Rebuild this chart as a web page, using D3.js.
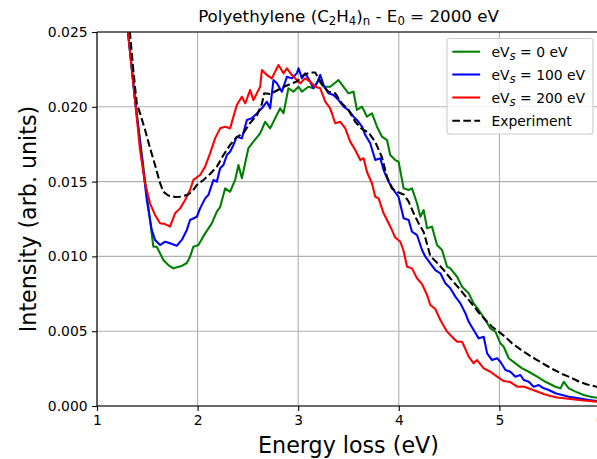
<!DOCTYPE html>
<html><head><meta charset="utf-8">
<script src="https://cdn.jsdelivr.net/npm/d3@7"></script>
<style>html,body{margin:0;padding:0;background:#fff;}svg{display:block;font-family:"DejaVu Sans",sans-serif;}</style>
</head><body>
<svg id="c" width="597" height="459"></svg>
<script>
// ---- data ----
const xTicks = [1, 2, 3, 4, 5, 6];
const yTicks = [0, 0.005, 0.010, 0.015, 0.020, 0.025];
const legendLabels = ["0 eV", "100 eV", "200 eV", "Experiment"];

const green_E = [1.28,1.308,1.378,1.56,1.594,1.66,1.709,1.759,1.809,1.843,1.893,1.925,1.958,2.008,2.075,2.141,2.191,2.224,2.274,2.323,2.373,2.406,2.44,2.505,2.555,2.622,2.672,2.721,2.771,2.821,2.854,2.903,2.953,3.003,3.037,3.102,3.152,3.202,3.252,3.318,3.401,3.451,3.5,3.55,3.584,3.634,3.684,3.733,3.783,3.833,3.883,3.915,3.965,3.998,4.048,4.098,4.131,4.181,4.214,4.247,4.281,4.33,4.38,4.43,4.48,4.512,4.579,4.629,4.695,4.744,4.794,4.861,4.91,4.96,5.01,5.043,5.093,5.159,5.226,5.292,5.375,5.458,5.557,5.607,5.64,5.69,5.756,5.839,5.905,6.005];
const green_I = [0.0265,0.025,0.0205,0.01065,0.01065,0.00976,0.00942,0.0092,0.00931,0.00936,0.00956,0.00998,0.01065,0.01076,0.01154,0.01221,0.01299,0.0133,0.01455,0.01432,0.01511,0.01611,0.01522,0.01723,0.01767,0.01823,0.019,0.01856,0.01923,0.0199,0.01957,0.02124,0.02101,0.02134,0.02101,0.02134,0.02124,0.02179,0.02134,0.02134,0.02179,0.02134,0.0209,0.02101,0.01979,0.02001,0.01934,0.01957,0.01867,0.018,0.01778,0.01678,0.01644,0.01633,0.01455,0.01444,0.01455,0.01355,0.01265,0.0131,0.01188,0.01199,0.01076,0.01043,0.00931,0.0092,0.00864,0.00797,0.00753,0.00686,0.00642,0.00575,0.00519,0.00497,0.00419,0.00396,0.00319,0.00285,0.00252,0.00229,0.00196,0.00162,0.00129,0.00118,0.00162,0.00118,0.00096,0.00074,0.00062,0.00051];

const blue_E = [1.279,1.308,1.378,1.495,1.544,1.577,1.627,1.677,1.726,1.793,1.843,1.893,1.925,1.992,2.025,2.075,2.107,2.157,2.191,2.224,2.257,2.291,2.323,2.356,2.39,2.44,2.49,2.539,2.589,2.639,2.689,2.721,2.754,2.788,2.838,2.888,2.937,2.987,3.003,3.037,3.07,3.119,3.152,3.186,3.219,3.252,3.301,3.351,3.401,3.451,3.5,3.55,3.584,3.634,3.667,3.716,3.766,3.816,3.849,3.899,3.948,3.998,4.048,4.098,4.131,4.181,4.231,4.264,4.313,4.363,4.413,4.463,4.512,4.562,4.612,4.662,4.695,4.744,4.794,4.844,4.878,4.927,4.977,5.01,5.06,5.109,5.159,5.209,5.242,5.292,5.341,5.391,5.441,5.491,5.557,5.624,5.69,5.789,5.889,6.005];
const blue_I = [0.0265,0.025,0.02045,0.01378,0.01177,0.0111,0.01076,0.01098,0.01088,0.01071,0.0111,0.01177,0.01243,0.01265,0.01321,0.01388,0.0141,0.01511,0.01499,0.01589,0.01611,0.01678,0.017,0.01745,0.018,0.01789,0.01912,0.01923,0.01956,0.0199,0.02034,0.0199,0.02179,0.02157,0.02101,0.02201,0.0219,0.02224,0.02257,0.0219,0.02224,0.02168,0.02124,0.02157,0.02213,0.02146,0.0209,0.02079,0.02045,0.02001,0.01978,0.01934,0.01912,0.01867,0.01811,0.01756,0.01644,0.01656,0.01577,0.01499,0.01444,0.01397,0.01255,0.01243,0.01165,0.01143,0.01043,0.00998,0.00954,0.00909,0.00887,0.0082,0.00787,0.00731,0.00686,0.0062,0.00563,0.00508,0.00452,0.00463,0.00352,0.00307,0.00319,0.00296,0.00241,0.00229,0.00196,0.00207,0.00174,0.00162,0.00129,0.0014,0.00118,0.00107,0.00085,0.00074,0.00062,0.00051,0.0004,0.00029];

const red_E = [1.279,1.308,1.378,1.428,1.478,1.527,1.577,1.627,1.677,1.726,1.776,1.826,1.876,1.925,1.958,2.025,2.075,2.124,2.174,2.224,2.274,2.323,2.39,2.44,2.473,2.522,2.555,2.622,2.639,2.689,2.738,2.804,2.854,2.888,2.937,2.987,3.02,3.07,3.119,3.169,3.219,3.269,3.318,3.368,3.418,3.468,3.517,3.567,3.617,3.65,3.684,3.733,3.766,3.799,3.849,3.899,3.932,3.965,4.015,4.048,4.082,4.131,4.181,4.231,4.281,4.313,4.363,4.413,4.48,4.529,4.579,4.629,4.695,4.744,4.778,4.844,4.91,4.977,5.043,5.109,5.176,5.242,5.308,5.375,5.441,5.507,5.574,5.706,5.839,6.005];
const red_I = [0.0265,0.025,0.02045,0.01711,0.01489,0.01355,0.01277,0.01221,0.01216,0.01199,0.01288,0.01321,0.01377,0.01444,0.01511,0.01544,0.016,0.01689,0.01789,0.01856,0.01867,0.01856,0.02012,0.02067,0.02023,0.02112,0.02045,0.02134,0.02246,0.02212,0.0219,0.02279,0.02224,0.02257,0.02212,0.02179,0.02157,0.0219,0.02168,0.02134,0.02124,0.02034,0.0199,0.0189,0.019,0.01856,0.01767,0.01711,0.01644,0.01656,0.01564,0.01489,0.01399,0.01388,0.01288,0.01221,0.01176,0.01126,0.01098,0.01036,0.00931,0.0092,0.00854,0.00815,0.00742,0.00675,0.00648,0.00575,0.00497,0.00463,0.0043,0.0043,0.0033,0.00285,0.00307,0.00252,0.00229,0.00196,0.00167,0.0016,0.00129,0.0013,0.00114,0.00097,0.0008,0.00067,0.00057,0.00047,0.00037,0.00027];

const exp_E = [1.289,1.328,1.361,1.395,1.428,1.478,1.527,1.577,1.627,1.66,1.709,1.776,1.826,1.893,1.942,1.992,2.058,2.124,2.191,2.257,2.323,2.39,2.456,2.522,2.589,2.639,2.662,2.721,2.788,2.854,2.92,2.987,3.053,3.119,3.169,3.202,3.252,3.301,3.368,3.435,3.5,3.567,3.634,3.7,3.766,3.833,3.883,3.932,3.998,4.048,4.098,4.148,4.197,4.247,4.281,4.313,4.383,4.446,4.512,4.592,4.662,4.728,4.794,4.861,4.927,4.993,5.06,5.126,5.209,5.292,5.375,5.458,5.537,5.624,5.706,5.789,5.873,5.955,6.005];
const exp_I = [0.0265,0.02493,0.02246,0.02023,0.01956,0.01845,0.01725,0.01611,0.01489,0.01432,0.01407,0.01397,0.01399,0.0141,0.0143,0.01477,0.01511,0.01551,0.016,0.01678,0.01745,0.01798,0.01825,0.01892,0.01942,0.02019,0.0209,0.02085,0.02109,0.02132,0.02152,0.02169,0.02212,0.02229,0.02229,0.02192,0.02134,0.02101,0.0209,0.02023,0.01978,0.019,0.01851,0.01828,0.01765,0.01661,0.01531,0.01454,0.01427,0.01414,0.01366,0.01288,0.01221,0.01163,0.01083,0.01003,0.00956,0.00909,0.00854,0.00792,0.00735,0.00682,0.00625,0.00575,0.0053,0.00497,0.00461,0.00419,0.00378,0.00341,0.00307,0.00274,0.00244,0.00214,0.00191,0.00164,0.00144,0.0013,0.00127];

// ---- layout ----
const W = 597, H = 459;
const L = 97, R = 600, T = 32, B = 406;
const svg = d3.select("#c");
svg.append("rect").attr("width", W).attr("height", H).attr("fill", "#fff");

const x = d3.scaleLinear().domain([1, 6]).range([L, R]);
const y = d3.scaleLinear().domain([0, 0.025]).range([B, T]);

// grid
const grid = svg.append("g");
grid.selectAll("line.gx").data(xTicks).join("line")
  .attr("x1", d => x(d)).attr("x2", d => x(d)).attr("y1", T).attr("y2", B)
  .attr("stroke", "#b0b0b0").attr("stroke-width", 1.1);
grid.selectAll("line.gy").data(yTicks).join("line")
  .attr("y1", d => y(d)).attr("y2", d => y(d)).attr("x1", L).attr("x2", R)
  .attr("stroke", "#b0b0b0").attr("stroke-width", 1.1);

// clip
svg.append("clipPath").attr("id", "clip").append("rect")
  .attr("x", L).attr("y", T).attr("width", R - L).attr("height", B - T);

const line = d3.line().x(d => x(d[0])).y(d => y(d[1]));
const zip = (a, b) => a.slice(0, Math.min(a.length, b.length)).map((v, i) => [v, b[i]]);

const series = [
  {e: green_E, v: green_I, color: "#008000", dash: null},
  {e: blue_E, v: blue_I, color: "#0000ff", dash: null},
  {e: red_E, v: red_I, color: "#ff0000", dash: null},
  {e: exp_E, v: exp_I, color: "#000000", dash: "7.7,3.3"}
];
const gl = svg.append("g").attr("clip-path", "url(#clip)");
series.forEach(s => {
  gl.append("path").datum(zip(s.e, s.v)).attr("d", line)
    .attr("fill", "none").attr("stroke", s.color).attr("stroke-width", 2.08)
    .attr("stroke-linejoin", "round").attr("stroke-linecap", s.dash ? "butt" : "square")
    .attr("stroke-dasharray", s.dash);
});

// axes
const xAxis = d3.axisBottom(x).tickValues(xTicks).tickFormat(d3.format("d")).tickSize(4.9).tickPadding(4.5);
const yAxis = d3.axisLeft(y).tickValues(yTicks).tickFormat(d3.format(".3f")).tickSize(4.9).tickPadding(4.5);
const gx = svg.append("g").attr("transform", `translate(0,${B})`).call(xAxis);
const gy = svg.append("g").attr("transform", `translate(${L},0)`).call(yAxis);
[gx, gy].forEach(g => {
  g.select(".domain").remove();
  g.selectAll(".tick line").attr("stroke", "#000").attr("stroke-width", 1.1);
  g.selectAll(".tick text").attr("fill", "#000").style("font-size", "13.9px").style("font-family", "DejaVu Sans");
});
// spines
svg.append("line").attr("x1", L).attr("x2", L).attr("y1", T).attr("y2", B).attr("stroke", "#000").attr("stroke-width", 1.1);
svg.append("line").attr("x1", L).attr("x2", R).attr("y1", B).attr("y2", B).attr("stroke", "#000").attr("stroke-width", 1.1);
svg.append("line").attr("x1", L).attr("x2", R).attr("y1", T).attr("y2", T).attr("stroke", "#000").attr("stroke-width", 1.1);

// title
const title = svg.append("text").attr("x", (L + R) / 2).attr("y", 22).attr("text-anchor", "middle")
  .style("font-size", "16.7px").attr("fill", "#000");
const sub = (t, txt, it) => { t.append("tspan").attr("baseline-shift", "-22%").style("font-size", "11.7px").style("font-style", it ? "italic" : "normal").text(txt); };
title.append("tspan").text("Polyethylene (C");
sub(title, "2");
title.append("tspan").text("H");
sub(title, "4");
title.append("tspan").text(")");
sub(title, "n");
title.append("tspan").text(" - E");
sub(title, "0");
title.append("tspan").text(" = 2000 eV");

// axis labels
svg.append("text").attr("x", (L + R) / 2).attr("y", 453).attr("text-anchor", "middle")
  .style("font-size", "22.2px").attr("fill", "#000").text("Energy loss (eV)");
svg.append("text").attr("transform", `translate(36,${(T + B) / 2}) rotate(-90)`).attr("text-anchor", "middle")
  .style("font-size", "22.2px").attr("fill", "#000").text("Intensity (arb. units)");

// legend
const lg = svg.append("g");
lg.append("rect").attr("x", 447).attr("y", 38.5).attr("width", 146).attr("height", 95.5)
  .attr("rx", 2.8).attr("fill", "#fff").attr("fill-opacity", 0.8).attr("stroke", "#cccccc").attr("stroke-width", 1.1);
const rowY = [51.7, 74.5, 97.5, 120.7];
series.forEach((s, i) => {
  lg.append("line").attr("x1", 452.3).attr("x2", 480.1).attr("y1", rowY[i]).attr("y2", rowY[i])
    .attr("stroke", s.color).attr("stroke-width", 2.08).attr("stroke-dasharray", s.dash);
  const t = lg.append("text").attr("x", 491.5).attr("y", rowY[i] + 5).style("font-size", "13.9px").attr("fill", "#000");
  if (i < 3) {
    t.append("tspan").text("eV");
    sub(t, "s", true);
    t.append("tspan").text(" = " + legendLabels[i]);
  } else {
    t.text(legendLabels[i]);
  }
});
</script>
</body></html>
